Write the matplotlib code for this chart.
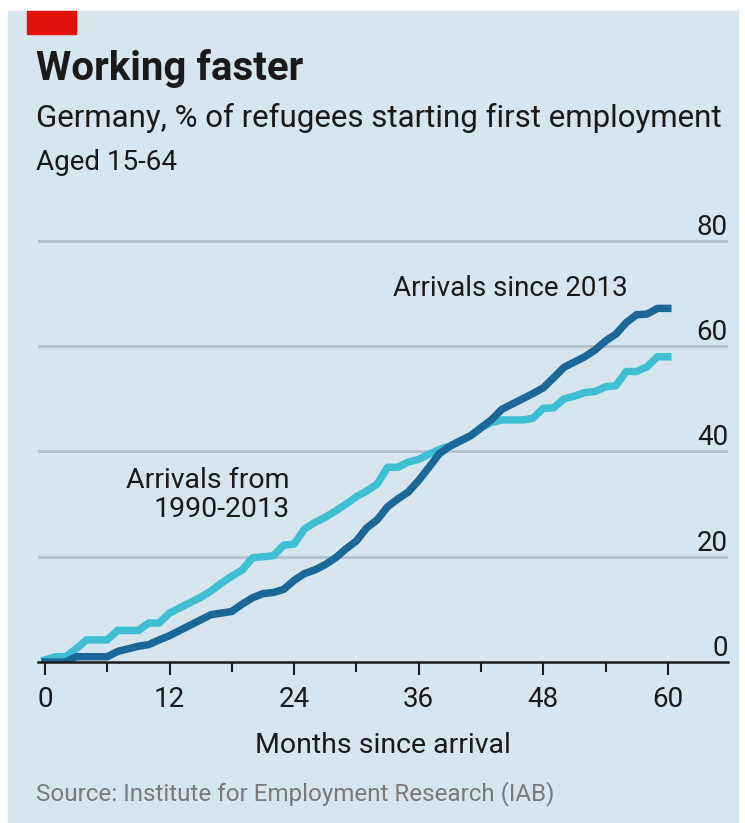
import matplotlib
matplotlib.use("Agg")
import matplotlib.pyplot as plt
import matplotlib.patches as mpatches
import numpy as np

# share of refugees who have started a first job, by months since arrival
months = np.arange(0, 61)
since_2013 = [0, 0, 0, 1, 1, 1, 1, 2, 2.5, 3,
              3.3, 4.2, 5, 6, 7, 8, 9, 9.3, 9.6, 11,
              12.2, 13, 13.2, 13.8, 15.5, 16.8, 17.5, 18.5, 19.8, 21.5,
              23, 25.5, 27, 29.5, 31, 32.3, 34.5, 37, 39.6, 41,
              42, 43, 44.5, 46, 48, 49, 50, 51, 52.1, 54,
              56, 57, 58, 59.3, 61, 62.3, 64.5, 66, 66.1, 67.2,
              67.2]
from_1990 = [0.4, 1, 1, 2.5, 4.2, 4.2, 4.2, 6, 6, 6,
             7.4, 7.4, 9.3, 10.3, 11.3, 12.3, 13.5, 15, 16.3, 17.5,
             19.8, 20, 20.2, 22.2, 22.4, 25.3, 26.5, 27.5, 28.7, 30,
             31.4, 32.5, 33.8, 37, 37, 38, 38.5, 39.5, 40.4, 41,
             42, 43, 44.5, 45.5, 46, 46, 46, 46.3, 48.2, 48.3,
             50, 50.5, 51.2, 51.4, 52.3, 52.5, 55.2, 55.2, 56.1, 58,
             58]

xticks = [0, 12, 24, 36, 48, 60]
xminor = [6, 18, 30, 42, 54]
yticks = [0, 20, 40, 60, 80]

title = "Working faster"
subtitle = "Germany, % of refugees starting first employment"
subsub = "Aged 15-64"
xlabel = "Months since arrival"
source = "Source: Institute for Employment Research (IAB)"
lab_new = "Arrivals since 2013"
lab_old = "Arrivals from\n1990-2013"

plt.rcParams['font.family'] = ['Roboto', 'DejaVu Sans']

BG = '#d7e5ee'
DARK = '#1b6898'
LIGHT = '#3fbfd4'
GRID = '#b5c3cc'
INK = '#1a1a1a'

W, H = 745, 823
fig = plt.figure(figsize=(W / 100, H / 100), dpi=100)
fig.patch.set_facecolor('white')

def fx(px):
    return px / W

def fy(py):
    return 1 - py / H

# panel background and red tag
fig.add_artist(mpatches.Rectangle((fx(8), 0), fx(738) - fx(8), fy(11),
                                  transform=fig.transFigure, color=BG, zorder=0))
fig.add_artist(mpatches.Rectangle((fx(27), fy(34)), fx(76) - fx(27), fy(11) - fy(34),
                                  transform=fig.transFigure, color='#e3120b', zorder=1))

fig.text(fx(36), fy(80), title, fontsize=29, fontweight='bold', color=INK, va='baseline')
fig.text(fx(36), fy(127), subtitle, fontsize=22.5, color=INK, va='baseline')
fig.text(fx(36), fy(170), subsub, fontsize=20, color=INK, va='baseline')
fig.text(fx(36), fy(800), source, fontsize=17.4, color='#7a7a7a', va='baseline')

ytop = 81.5
ppu = (662 - 241) / 80.0
ax = fig.add_axes([fx(38), fy(662), fx(728) - fx(38), (ytop * ppu) / H])
ax.set_facecolor('none')
ax.set_xlim(-0.67, 65.8)
ax.set_ylim(0, ytop)

for v in yticks[1:]:
    ax.axhline(v, color=GRID, lw=2.2, zorder=1)

ax.plot(months, from_1990, color=LIGHT, lw=5.4, solid_joinstyle='round', zorder=3)
ax.plot(months, since_2013, color=DARK, lw=5.4, solid_joinstyle='round', zorder=4)

for s in ['top', 'left', 'right']:
    ax.spines[s].set_visible(False)
ax.spines['bottom'].set_color(INK)
ax.spines['bottom'].set_linewidth(1.8)
ax.spines['bottom'].set_zorder(5)

ax.set_xticks(xticks)
ax.set_xticks(xminor, minor=True)
ax.set_xticklabels([str(t) for t in xticks])
ax.tick_params(axis='x', which='major', length=9, width=1.5, color=INK,
               labelsize=20, labelcolor=INK, pad=8)
ax.tick_params(axis='x', which='minor', length=7, width=1.5, color=INK)

ax.yaxis.tick_right()
ax.set_yticks(yticks)
ax.set_yticklabels([str(t) for t in yticks])
ax.tick_params(axis='y', length=0, pad=0, labelsize=20, labelcolor=INK)
for lab in ax.get_yticklabels():
    lab.set_ha('right')
    lab.set_va('bottom')

ax.set_xlabel(xlabel, fontsize=20.5, color=INK, labelpad=14)

ax.text(56.1, 69.5, lab_new, fontsize=20, color=INK, ha='right', va='baseline')
ax.text(23.6, 27.5, lab_old, fontsize=20.5, color=INK, ha='right', va='baseline',
        linespacing=1.1, multialignment='right')

fig.savefig("out.png", dpi=100, facecolor=fig.get_facecolor())
